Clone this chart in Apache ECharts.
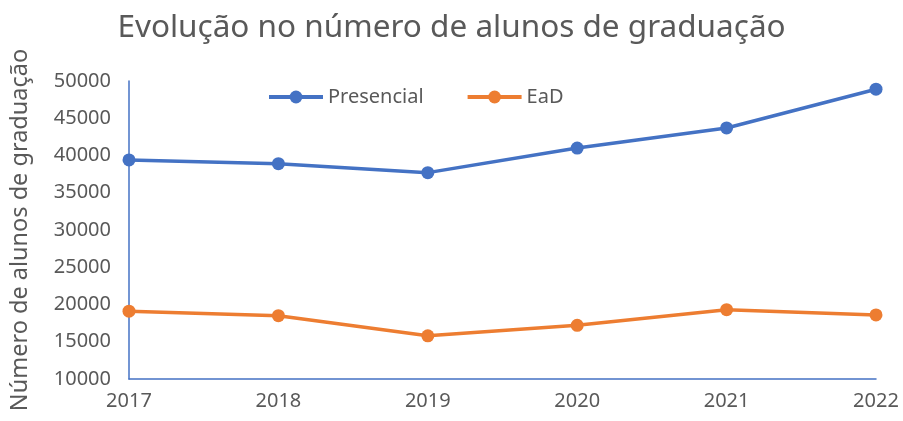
<!DOCTYPE html>
<html>
<head>
<meta charset="utf-8">
<script src="https://cdn.jsdelivr.net/npm/echarts@6/dist/echarts.min.js"></script>
<style>
  html, body { margin: 0; padding: 0; background: #fff; }
  #chart { width: 903px; height: 421px; }
</style>
</head>
<body>
<div id="chart"></div>
<script>
// dados
var anos = ['2017', '2018', '2019', '2020', '2021', '2022'];
var presencial = [39400, 38900, 37700, 41000, 43700, 48900];
var ead = [19100, 18500, 15800, 17200, 19300, 18600];

var chart = echarts.init(document.getElementById('chart'));
var fonte = 'Noto Sans, sans-serif';

chart.setOption({
    animation: false,
    title: {
        text: 'Evolução no número de alunos de graduação',
        left: 'center',
        top: 7,
        textStyle: { fontFamily: fonte, fontSize: 31.5, fontWeight: 'normal', color: '#595959' }
    },
    legend: {
        data: ['Presencial', 'EaD'],
        top: 82,
        left: 262,
        itemWidth: 54,
        itemHeight: 16,
        itemGap: 42,
        lineStyle: { width: 4 },
        textStyle: { fontFamily: fonte, fontSize: 20, color: '#595959' }
    },
    grid: { left: 126, right: 27, top: 81, bottom: 42 },
    xAxis: {
        type: 'category',
        data: anos,
        boundaryGap: false,
        axisLine: { lineStyle: { color: '#4472C4', width: 1.5 } },
        axisTick: { show: false },
        axisLabel: { fontFamily: fonte, fontSize: 20, color: '#595959', margin: 12 }
    },
    yAxis: {
        type: 'value',
        min: 10000,
        max: 50000,
        interval: 5000,
        name: 'Número de alunos de graduação',
        nameLocation: 'middle',
        nameGap: 97,
        nameTextStyle: { fontFamily: fonte, fontSize: 23.5, color: '#595959' },
        axisLine: { show: true, lineStyle: { color: '#4472C4', width: 1.5 } },
        axisTick: { show: false },
        splitLine: { show: false },
        axisLabel: {
            fontFamily: fonte, fontSize: 20, color: '#595959', margin: 18,
            formatter: function (v) { return String(v); }
        }
    },
    series: [
        {
            name: 'Presencial',
            type: 'line',
            data: presencial,
            symbol: 'circle',
            symbolSize: 13,
            itemStyle: { color: '#4472C4' },
            lineStyle: { color: '#4472C4', width: 3.5 }
        },
        {
            name: 'EaD',
            type: 'line',
            data: ead,
            symbol: 'circle',
            symbolSize: 13,
            itemStyle: { color: '#ED7D31' },
            lineStyle: { color: '#ED7D31', width: 3.5 }
        }
    ]
});
</script>
</body>
</html>
